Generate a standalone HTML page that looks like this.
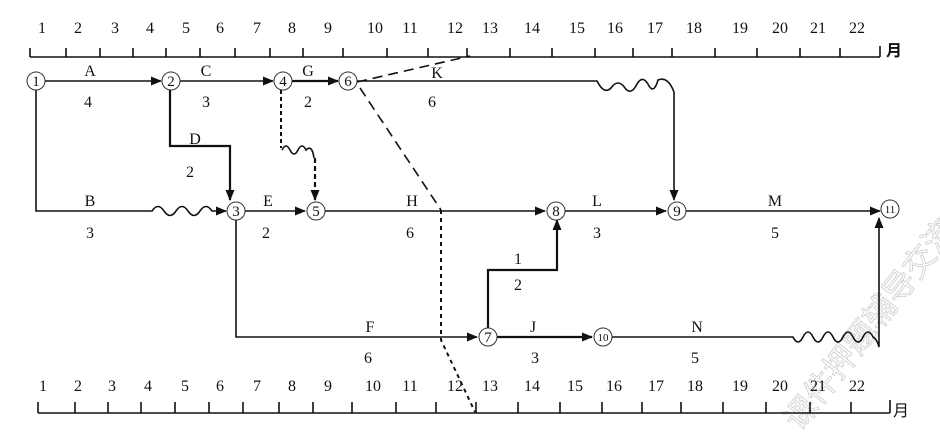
<!DOCTYPE html>
<html><head><meta charset="utf-8"><style>
html,body{margin:0;padding:0;background:#fff;}
svg{display:block;font-family:"Liberation Serif","Noto Serif CJK SC",serif;}
</style></head><body>
<svg width="940" height="432" viewBox="0 0 940 432" xmlns="http://www.w3.org/2000/svg">
<defs>
<marker id="a" markerWidth="11" markerHeight="9" refX="10" refY="4.5" orient="auto" markerUnits="userSpaceOnUse">
<path d="M0,0 L11,4.5 L0,9 Z" fill="#111"/></marker>
</defs>
<text x="0" y="0" transform="translate(800,432) rotate(-52)" font-family="Noto Sans CJK SC,sans-serif" font-size="32" fill="none" stroke="#ccc" stroke-width="0.8">课件押题辅导交流</text>
<g fill="#111" font-size="16" text-anchor="middle">
<text x="42" y="33">1</text><text x="78" y="33">2</text><text x="115" y="33">3</text><text x="150" y="33">4</text><text x="186" y="33">5</text><text x="220" y="33">6</text><text x="257" y="33">7</text><text x="292" y="33">8</text><text x="328" y="33">9</text><text x="375" y="33">10</text><text x="410" y="33">11</text><text x="455" y="33">12</text><text x="490" y="33">13</text><text x="532" y="33">14</text><text x="577" y="33">15</text><text x="615" y="33">16</text><text x="655" y="33">17</text><text x="694" y="33">18</text><text x="740" y="33">19</text><text x="780" y="33">20</text><text x="818" y="33">21</text><text x="857" y="33">22</text>
<text x="43" y="391">1</text><text x="78" y="391">2</text><text x="112" y="391">3</text><text x="148" y="391">4</text><text x="185" y="391">5</text><text x="220" y="391">6</text><text x="257" y="391">7</text><text x="292" y="391">8</text><text x="328" y="391">9</text><text x="373" y="391">10</text><text x="410" y="391">11</text><text x="455" y="391">12</text><text x="490" y="391">13</text><text x="532" y="391">14</text><text x="575" y="391">15</text><text x="614" y="391">16</text><text x="656" y="391">17</text><text x="695" y="391">18</text><text x="740" y="391">19</text><text x="780" y="391">20</text><text x="818" y="391">21</text><text x="857" y="391">22</text>
<text x="894" y="56" font-family="Noto Sans CJK SC,sans-serif" font-size="16" font-weight="bold">月</text>
<text x="901" y="416" font-family="Noto Sans CJK SC,sans-serif" font-size="16">月</text>
<text x="90" y="76">A</text><text x="88" y="107">4</text>
<text x="206" y="76">C</text><text x="206" y="107">3</text>
<text x="308" y="76">G</text><text x="308" y="107">2</text>
<text x="437" y="78">K</text><text x="432" y="107">6</text>
<text x="195" y="144">D</text><text x="190" y="177">2</text>
<text x="90" y="206">B</text><text x="90" y="238">3</text>
<text x="268" y="206">E</text><text x="266" y="238">2</text>
<text x="412" y="206">H</text><text x="410" y="238">6</text>
<text x="597" y="206">L</text><text x="597" y="238">3</text>
<text x="775" y="206">M</text><text x="775" y="238">5</text>
<text x="518" y="264">1</text><text x="518" y="290">2</text>
<text x="370" y="332">F</text><text x="368" y="363">6</text>
<text x="533" y="332">J</text><text x="535" y="363">3</text>
<text x="697" y="332">N</text><text x="695" y="363">5</text>
</g>
<g stroke="#111" stroke-width="1.6" fill="none">
<path d="M30,57 H880 M30,48 V57 M66,48V57 M100,48V57 M133,48V57 M166,48V57 M200,48V57 M235,48V57 M270,48V57 M303,48V57 M343,48V57 M387,48V57 M428,48V57 M467,48V57 M510,48V57 M552,48V57 M595,48V57 M633,48V57 M672,48V57 M715,48V57 M757,48V57 M800,48V57 M840,48V57 M880,46V57"/>
<path d="M38,413 H890 M38,402V413 M75,402V413 M108,402V413 M141,402V413 M175,402V413 M209,402V413 M243,402V413 M279,402V413 M313,402V413 M352,402V413 M396,402V413 M436,402V413 M476,402V413 M518,402V413 M560,402V413 M602,402V413 M642,402V413 M681,402V413 M723,402V413 M766,402V413 M810,402V413 M851,402V413 M890,400V413"/>
<path d="M45,81 H161" marker-end="url(#a)"/>
<path d="M180,81 H273" marker-end="url(#a)"/>
<path d="M292,81 H338" stroke-width="2.2" marker-end="url(#a)"/>
<path d="M357,81 H597 q7,14 14,7 q7,-10 14,0 q6,8 12,-4 q6,-10 12,2 q5,8 9,-6 q10,-4 16,12 L674,200" marker-end="url(#a)"/>
<path d="M36,90 V211 H152 q6,-9 12,0 q6,9 12,0 q6,-9 12,0 q6,9 12,0 q6,-9 12,0 L226,211" marker-end="url(#a)"/>
<path d="M170,90 V146 H230 V200" stroke-width="2.2" marker-end="url(#a)"/>
<path d="M245,211 H305" marker-end="url(#a)"/>
<path d="M325,211 H545" marker-end="url(#a)"/>
<path d="M565,211 H666" marker-end="url(#a)"/>
<path d="M686,211 H880" marker-end="url(#a)"/>
<path d="M236,220 V337 H477" marker-end="url(#a)"/>
<path d="M497,337 H592" stroke-width="2.2" marker-end="url(#a)"/>
<path d="M612,337 H793 q5,10 10,0 q5,-10 10,0 q5,10 10,0 q5,-10 10,0 q5,10 10,0 q5,-10 10,0 q5,10 10,0 q5,-10 10,0 q4,2 6,10 V218" marker-end="url(#a)"/>
<path d="M488,328 V270 H557 V220" stroke-width="2.2" marker-end="url(#a)"/>
<path d="M281,90 V148" stroke-dasharray="4,3" stroke-width="2"/>
<path d="M282,150 q4,-8 8,0 q4,8 8,0 q4,-8 8,0 q6,-6 8,8"/>
<path d="M315,158 V200" stroke-dasharray="5,3" stroke-width="2.2" marker-end="url(#a)"/>
<path d="M357,82 L470,56" stroke-dasharray="10,6"/>
<path d="M360,88 L441,210" stroke-dasharray="10,6"/>
<path d="M441,210 V340 L475,412" stroke-dasharray="4,4" stroke-width="2"/>
</g>
<g fill="#fff" stroke="#333" stroke-width="1">
<circle cx="36" cy="81" r="9"/><circle cx="171" cy="81" r="9"/><circle cx="283" cy="81" r="9"/><circle cx="348" cy="81" r="9"/>
<circle cx="236" cy="211" r="9"/><circle cx="316" cy="211" r="9"/><circle cx="556" cy="211" r="9"/><circle cx="677" cy="211" r="9"/><circle cx="890" cy="209" r="9"/>
<circle cx="488" cy="337" r="9"/><circle cx="603" cy="337" r="9"/>
</g>
<g fill="#111" font-size="15" text-anchor="middle">
<text x="36" y="86">1</text><text x="171" y="86">2</text><text x="283" y="86">4</text><text x="348" y="86">6</text>
<text x="236" y="216">3</text><text x="316" y="216">5</text><text x="556" y="216">8</text><text x="677" y="216">9</text><text x="890" y="213" font-size="11">11</text>
<text x="488" y="342">7</text><text x="603" y="341" font-size="11">10</text>
</g>
</svg>
</body></html>
